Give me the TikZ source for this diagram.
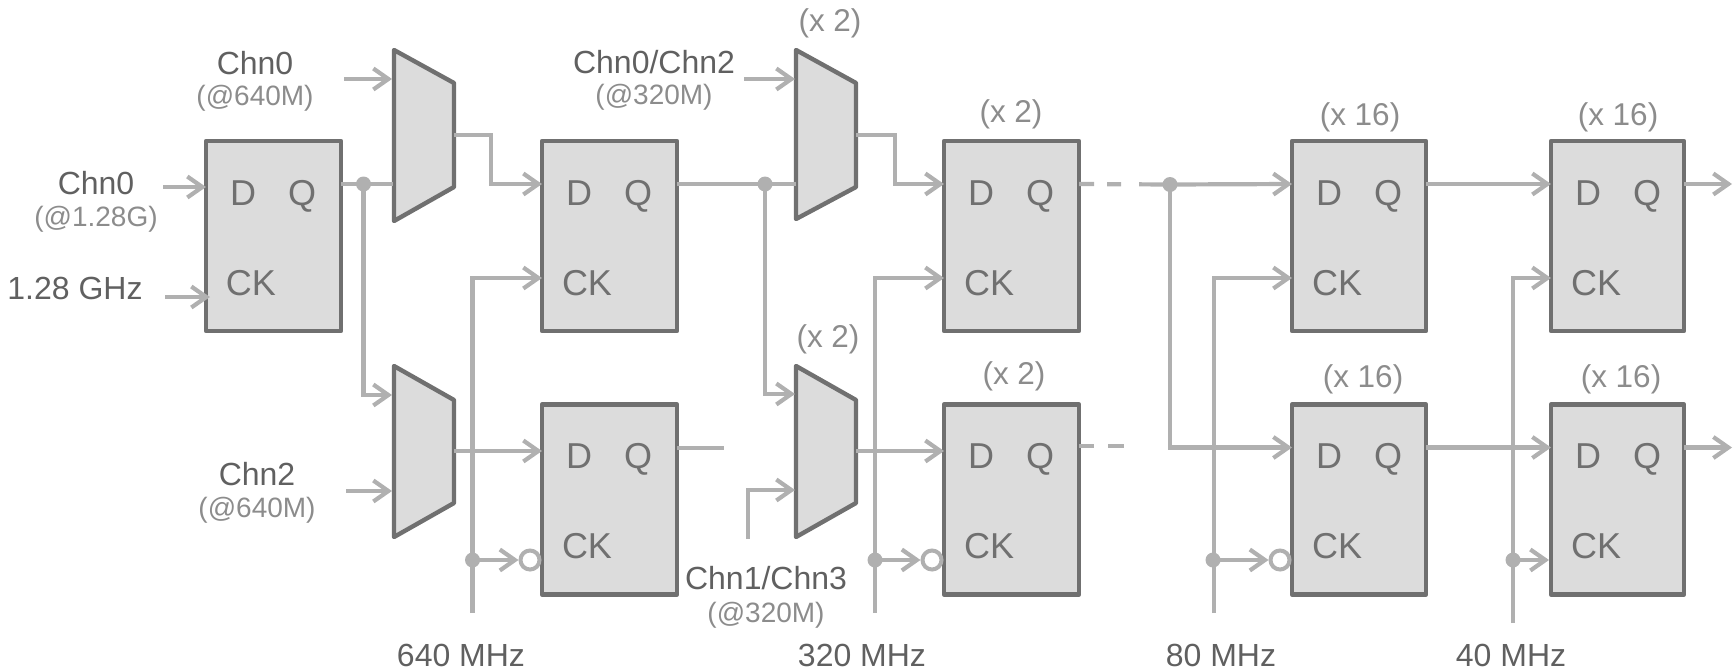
\documentclass[tikz,border=0pt]{standalone}
\usepackage{fontspec}
\setmainfont{Liberation Sans}
\usetikzlibrary{arrows.meta}
\definecolor{wirec}{HTML}{B0B0B0}
\definecolor{edgec}{HTML}{707070}
\definecolor{fillc}{HTML}{DCDCDC}
\definecolor{maintxt}{HTML}{606060}
\definecolor{subtxt}{HTML}{8C8C8C}
\definecolor{pintxt}{HTML}{707070}
\tikzset{
  ffbox/.style={draw=edgec,fill=fillc,line width=4.4pt,line join=round,rectangle,inner sep=0pt,outer sep=0pt,anchor=north west,minimum height=190pt},
  muxshape/.style={draw=edgec,fill=fillc,line width=4.4pt,line join=round},
  pinlab/.style={text=pintxt,font=\fontsize{36}{36}\selectfont,inner sep=0pt,anchor=base},
  mainlab/.style={text=maintxt,font=\fontsize{32}{32}\selectfont,inner sep=0pt},
  sublab/.style={text=subtxt,font=\fontsize{28}{28}\selectfont,inner sep=0pt},
  multlab/.style={text=subtxt,font=\fontsize{31.5}{32}\selectfont,inner sep=0pt},
  wire/.style={draw=wirec,line width=4.2pt,line join=miter},
  arr/.style={wire,-{Straight Barb[length=15pt,width=21pt]}},
  dotj/.style={circle,fill=wirec,inner sep=0pt,outer sep=0pt,minimum size=15pt},
  bub/.style={circle,draw=wirec,fill=white,line width=4pt,inner sep=0pt,outer sep=2pt,minimum size=19pt},
}
\newcommand{\ffunit}[4]{%
  \node[ffbox,minimum width=#4] (#1) at (#2,#3) {};
  \node[pinlab] (#1-dl) at (#2+37,#3+64) {D};
  \node[pinlab] (#1-ql) at (#2+96,#3+64) {Q};
  \node[pinlab] (#1-cl) at (#2+45,#3+154) {CK};
  \coordinate (#1-d) at (#2,#3+43);
  \coordinate (#1-q) at (#2+#4,#3+43);
  \coordinate (#1-ck) at (#2,#3+137);
}
\begin{document}
\begin{tikzpicture}[x=1pt,y=-1pt]
\useasboundingbox (0,0) rectangle (1736,670);
% flip-flops
\ffunit{a}{206}{141}{135}
\ffunit{bt}{542}{141}{135}
\ffunit{bb}{542}{404.5}{135}
\ffunit{ct}{944}{141}{135}
\ffunit{cb}{944}{404.5}{135}
\ffunit{dt}{1292}{141}{134}
\ffunit{db}{1292}{404.5}{134}
\ffunit{et}{1551}{141}{133}
\ffunit{eb}{1551}{404.5}{133}
% muxes
\draw[muxshape] (394,50) -- (454,83) -- (454,187) -- (394,221) -- cycle;
\draw[muxshape] (394,366) -- (454,400) -- (454,503) -- (394,537) -- cycle;
\draw[muxshape] (796,50) -- (856,83) -- (856,187) -- (796,219) -- cycle;
\draw[muxshape] (796,366) -- (856,400) -- (856,503) -- (796,537) -- cycle;
\coordinate (m1a) at (392,79);
\coordinate (m1i) at (393,184);
\coordinate (m1o) at (454,135);
\coordinate (m2a) at (392,395);
\coordinate (m2b) at (392,491);
\coordinate (m2o) at (454,451);
\coordinate (m3a) at (795,79);
\coordinate (m3i) at (796,184);
\coordinate (m3o) at (856,135);
\coordinate (m4a) at (795,394);
\coordinate (m4b) at (795,490);
\coordinate (m4o) at (856,451);
% free ends
\coordinate (s1) at (163,187);
\coordinate (t1) at (206,187);
\coordinate (s2) at (165,297);
\coordinate (t2) at (210,297);
\coordinate (s3) at (344,79);
\coordinate (s4) at (346,491);
\coordinate (s5) at (744,79);
\coordinate (s6) at (748,539);
\coordinate (bq) at (724,448);
\coordinate (cq) at (1125,446);
\coordinate (ck1) at (472.5,613);
\coordinate (ck2) at (875,613);
\coordinate (ck3) at (1214,613);
\coordinate (ck4) at (1513,623);
\coordinate (ebck) at (1549,560);
\coordinate (ets) at (1732,184);
\coordinate (ebs) at (1732,448);
% junctions and bubbles
\node[bub] (bu1) at (530,560) {};
\node[bub] (bu2) at (932,560) {};
\node[bub] (bu3) at (1280,560) {};
\node[dotj] (j1) at (363.5,184) {};
\node[dotj] (j2) at (765,184) {};
\node[dotj] (j3) at (1170,184.5) {};
\node[dotj] (c1) at (472.5,560) {};
\node[dotj] (c2) at (875,560) {};
\node[dotj] (c3) at (1213,560) {};
\node[dotj] (c4) at (1513,560) {};
% wires
\draw[arr] (s1) -- (t1);
\draw[arr] (s2) -- (t2);
\draw[arr] (s3) -- (m1a);
\draw[arr] (s4) -- (m2b);
\draw[wire] (a-q) -- (m1i);
\draw[arr] (j1.center) |- (m2a);
\draw[arr] (m1o) -| (491,184) -- (bt-d);
\draw[arr] (m2o) -- (bb-d |- m2o);
\draw[arr] (ck1) |- (bt-ck);
\draw[arr] (c1.center) -- (bu1);
\draw[wire] (bb-q |- bq) -- (bq);
\draw[wire] (bt-q) -- (m3i);
\draw[arr] (j2.center) |- (m4a);
\draw[arr] (s5) -- (m3a);
\draw[arr] (s6) |- (m4b);
\draw[arr] (m3o) -| (895,184) -- (ct-d);
\draw[arr] (m4o) -- (cb-d |- m4o);
\draw[arr] (ck2) |- (ct-ck);
\draw[arr] (c2.center) -- (bu2);
\draw[wire,dash pattern=on 15pt off 13pt on 14pt off 18pt on 40pt] (ct-q) -- (j3.center);
\draw[wire,dash pattern=on 15pt off 14pt on 16pt off 10pt] (cb-q |- cq) -- (cq);
\draw[arr] (j3.center) -- (dt-d);
\draw[arr] (j3.center) |- (db-d);
\draw[arr] (ck3) |- (dt-ck);
\draw[arr] (c3.center) -- (bu3);
\draw[arr] (dt-q) -- (et-d);
\draw[arr] (db-q) -- (eb-d);
\draw[arr] (ck4) |- (et-ck);
\draw[arr] (c4.center) -- (ebck);
\draw[arr] (et-q) -- (ets);
\draw[arr] (eb-q) -- (ebs |- eb-q);
% texts
\node[mainlab] (l1) at (255,63) {Chn0};
\node[sublab] (l2) at (255,98) {(@640M)};
\node[mainlab] (l3) at (96,183) {Chn0};
\node[sublab] (l4) at (96,219) {(@1.28G)};
\node[mainlab] (l5) at (75,288) {1.28 GHz};
\node[mainlab] (l6) at (654,62) {Chn0/Chn2};
\node[sublab] (l7) at (654,97) {(@320M)};
\node[multlab] (l8) at (830,23) {(x 2)};
\node[multlab] (l9) at (1011,114) {(x 2)};
\node[multlab] (l10) at (1360,117) {(x 16)};
\node[multlab] (l11) at (1618,117) {(x 16)};
\node[multlab] (l12) at (828,339) {(x 2)};
\node[multlab] (l13) at (1014,376) {(x 2)};
\node[multlab] (l14) at (1363,379) {(x 16)};
\node[multlab] (l15) at (1621,379) {(x 16)};
\node[mainlab] (l16) at (257,474) {Chn2};
\node[sublab] (l17) at (257,510) {(@640M)};
\node[mainlab] (l18) at (766,578) {Chn1/Chn3};
\node[sublab] (l19) at (766,615) {(@320M)};
\node[mainlab] (l20) at (461,655) {640 MHz};
\node[mainlab] (l21) at (862,655) {320 MHz};
\node[mainlab] (l22) at (1221,655) {80 MHz};
\node[mainlab] (l23) at (1511,655) {40 MHz};
\end{tikzpicture}
\end{document}
